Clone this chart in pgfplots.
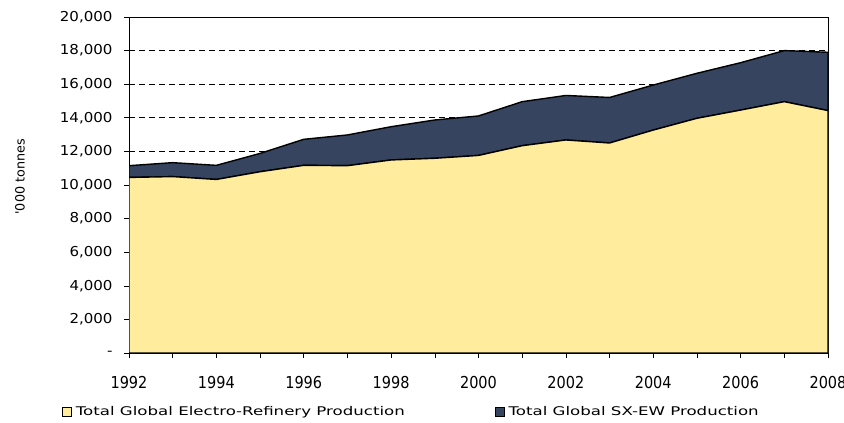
\documentclass[border=0pt]{standalone}
\usepackage{pgfplots}
\pgfplotsset{compat=1.18}
\usepackage{fontspec}
\setmainfont{DejaVu Sans}
\newfontfamily\xtfont{DejaVu Sans}[FakeStretch=0.88]
\newfontfamily\ytfont{DejaVu Sans}[FakeStretch=1.1]
\newfontfamily\legfont{DejaVu Sans}[FakeStretch=1.39]
\definecolor{erYellow}{HTML}{FFEC9C}
\definecolor{sxNavy}{HTML}{37445F}

\begin{document}
\begin{tikzpicture}
\useasboundingbox (0,0) rectangle (844bp,423bp);
\begin{axis}[
  at={(129bp,70bp)}, anchor=south west,
  scale only axis, width=699bp, height=336bp,
  xmin=1992, xmax=2008, ymin=0, ymax=20000,
  stack plots=y,
  scaled y ticks=false,
  xtick={1992,1994,...,2008},
  xticklabels={1992,1994,1996,1998,2000,2002,2004,2006,2008},
  minor xtick={1993,1995,...,2007},
  ytick={0,2000,...,20000},
  yticklabels={-,{2,000},{4,000},{6,000},{8,000},{10,000},{12,000},{14,000},{16,000},{18,000},{20,000}},
  xtick pos=lower, ytick pos=left,
  tick align=outside,
  major tick length=5bp, minor tick length=5bp,
  tick style={black, line width=0.6pt},
  axis line style={line width=0.6pt},
  ymajorgrids,
  major grid style={black, line width=0.6pt, dash pattern=on 6bp off 4bp},
  xticklabel style={font=\xtfont\fontsize{16.5}{18}\selectfont, yshift=-14.5bp},
  yticklabel style={font=\ytfont\fontsize{13.7}{16}\selectfont, xshift=-8bp},
  ylabel={\textquotesingle 000 tonnes},
  ylabel style={at={(axis description cs:-0.156,0.524)}, anchor=center, font=\fontsize{12.8}{15}\selectfont},
  legend columns=2,
  legend cell align=left,
  legend style={at={(axis description cs:-0.096,-0.174)}, anchor=west, draw=none, fill=none,
    inner sep=0pt, font=\legfont\fontsize{12}{14}\selectfont,
    /tikz/every even column/.append style={column sep=88bp}},
  legend image code/.code={\draw[#1, line width=0.8pt] (0bp,-4.5bp) rectangle (9bp,4.5bp);},
]
\addplot[fill=erYellow, draw=black, line width=1.4pt] coordinates {
(1992,10450) (1993,10500) (1994,10330) (1995,10790) (1996,11170) (1997,11150)
(1998,11490) (1999,11590) (2000,11760) (2001,12340) (2002,12680) (2003,12500)
(2004,13270) (2005,13970) (2006,14460) (2007,14960) (2008,14430)
} \closedcycle;
\addlegendentry{\hspace{2bp}Total Global Electro-Refinery Production}
\addplot[fill=sxNavy, draw=black, line width=1.4pt] coordinates {
(1992,700) (1993,830) (1994,840) (1995,1090) (1996,1550) (1997,1830)
(1998,1980) (1999,2280) (2000,2350) (2001,2620) (2002,2650) (2003,2710)
(2004,2680) (2005,2680) (2006,2820) (2007,3040) (2008,3470)
} \closedcycle;
\addlegendentry{\hspace{2bp}Total Global SX-EW Production}
\end{axis}
\end{tikzpicture}
\end{document}
